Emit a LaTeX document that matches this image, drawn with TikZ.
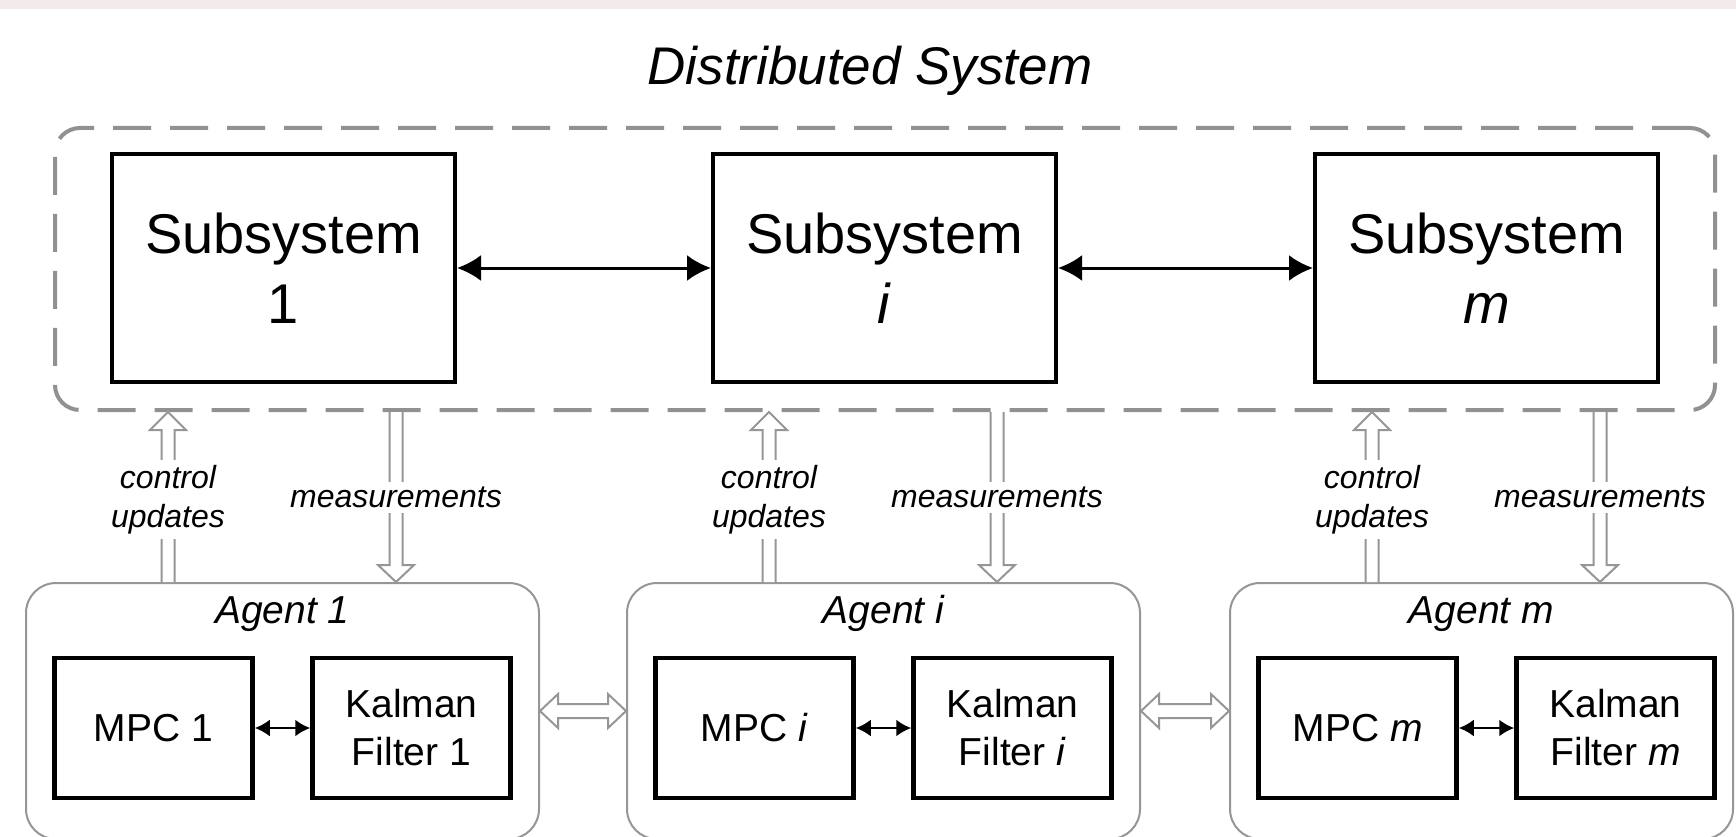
\documentclass[tikz,border=0pt]{standalone}
\usepackage{fontspec}
\setmainfont{Liberation Sans}
\usetikzlibrary{arrows.meta,calc}
\definecolor{topband}{RGB}{243,235,235}
\definecolor{lgray}{RGB}{150,150,150}
\definecolor{dgray}{RGB}{145,145,145}
\newcommand\myfs[2]{\fontsize{#1}{#2}\selectfont}
\newcommand\HollowUp[2]{\draw[hollow] let \p1=(#1), \p2=(#2) in (\x1-6.5pt,\y1) -- (\x1-6.5pt,\y2-18pt) -- (\x1-18pt,\y2-18pt) -- (\x1,\y2) -- (\x1+18pt,\y2-18pt) -- (\x1+6.5pt,\y2-18pt) -- (\x1+6.5pt,\y1);}
\newcommand\HollowDown[2]{\draw[hollow] let \p1=(#1), \p2=(#2) in (\x1-6.5pt,\y1) -- (\x1-6.5pt,\y2+17pt) -- (\x1-18pt,\y2+17pt) -- (\x1,\y2) -- (\x1+18pt,\y2+17pt) -- (\x1+6.5pt,\y2+17pt) -- (\x1+6.5pt,\y1);}
\newcommand\HollowLR[2]{\draw[hollow] let \p1=(#1), \p2=(#2) in (\x1,\y1) -- (\x1+18pt,\y1+17pt) -- (\x1+18pt,\y1+7pt) -- (\x2-18pt,\y1+7pt) -- (\x2-18pt,\y1+17pt) -- (\x2,\y1) -- (\x2-18pt,\y1-17pt) -- (\x2-18pt,\y1-7pt) -- (\x1+18pt,\y1-7pt) -- (\x1+18pt,\y1-17pt) -- cycle;}
\tikzset{
 subbox/.style={draw=black, line width=4pt, minimum width=343pt, minimum height=227pt, align=center, font=\myfs{56}{70}, inner sep=0pt},
 innerbox/.style={draw=black, line width=4.5pt, minimum width=198pt, minimum height=140pt, align=center, font=\myfs{39}{48}, inner sep=0pt},
 agentbox/.style={draw=lgray, line width=2pt, rounded corners=30pt, minimum height=256pt, inner sep=0pt},
 sysbox/.style={draw=dgray, line width=4pt, dash pattern=on 38pt off 19pt, rounded corners=25pt, minimum width=1660pt, minimum height=282pt, inner sep=0pt},
 link/.style={line width=3pt, {Latex[length=24pt,width=26pt]}-{Latex[length=24pt,width=26pt]}},
 smalllink/.style={line width=2.5pt, {Latex[length=15pt,width=17pt]}-{Latex[length=15pt,width=17pt]}},
 hollow/.style={draw=lgray, line width=2pt, fill=white, line join=miter},
 lbl/.style={font=\myfs{32}{39}\itshape, fill=white, inner sep=5pt, align=center},
 agtitle/.style={font=\myfs{39}{48}\itshape, anchor=base, inner sep=0pt},
}
\begin{document}
\begin{tikzpicture}[x=1pt,y=-1pt]
\useasboundingbox (0,0) rectangle (1736,837);
\fill[white] (0,0) rectangle (1736,837);
\fill[topband] (0,0) rectangle (1736,9);

% title
\node[font=\myfs{53}{64}\itshape, anchor=base, inner sep=0pt] (title) at (870,85) {Distributed System};

% distributed system frame
\node[sysbox] (dsys) at (885,269) {};

% subsystems
\node[subbox] (s1) at (283.5,268) {Subsystem\\1};
\node[subbox] (si) at (884.5,268) {Subsystem\\\textit{i}};
\node[subbox] (sm) at (1486.5,268) {Subsystem\\\textit{m}};
\draw[link] (s1) -- (si);
\draw[link] (si) -- (sm);

% agents
\node[agentbox, minimum width=513pt] (a1) at (282.5,711) {};
\node[agentbox, minimum width=513pt] (ai) at (883.5,711) {};
\node[agentbox, minimum width=503pt] (am) at (1481.5,711) {};
\node[agtitle] (a1t) at (282.5,623) {Agent 1};
\node[agtitle] (ait) at (883.5,623) {Agent \textit{i}};
\node[agtitle] (amt) at (1481.5,623) {Agent \textit{m}};

% inner boxes
\node[innerbox] (mpc1) at (153.5,728) {MPC 1};
\node[innerbox] (kf1) at (411.5,728) {Kalman\\Filter 1};
\node[innerbox] (mpci) at (754.5,728) {MPC \textit{i}};
\node[innerbox] (kfi) at (1012.5,728) {Kalman\\Filter \textit{i}};
\node[innerbox] (mpcm) at (1357.5,728) {MPC \textit{m}};
\node[innerbox] (kfm) at (1615.5,728) {Kalman\\Filter \textit{m}};
\draw[smalllink] (mpc1) -- (kf1);
\draw[smalllink] (mpci) -- (kfi);
\draw[smalllink] (mpcm) -- (kfm);

% agent-to-agent hollow double arrows
\HollowLR{a1.east}{ai.west}
\HollowLR{ai.east}{am.west}

% control / measurement arrows
\coordinate (cu1) at ($(a1.north west)+(143,0)$);
\coordinate (cui) at ($(ai.north west)+(143,0)$);
\coordinate (cum) at ($(am.north west)+(143,0)$);
\coordinate (me1) at ($(a1.north west)+(371,0)$);
\coordinate (mei) at ($(ai.north west)+(371,0)$);
\coordinate (mem) at ($(am.north west)+(371,0)$);
\HollowUp{cu1}{cu1 |- dsys.south}
\HollowUp{cui}{cui |- dsys.south}
\HollowUp{cum}{cum |- dsys.south}
\HollowDown{me1 |- dsys.south}{me1}
\HollowDown{mei |- dsys.south}{mei}
\HollowDown{mem |- dsys.south}{mem}

% labels
\node[lbl] (cl1) at (168,499.5) {control\\updates};
\node[lbl] (cli) at (769,499.5) {control\\updates};
\node[lbl] (clm) at (1372,499.5) {control\\updates};
\node[lbl] (ml1) at (396,497) {measurements};
\node[lbl] (mli) at (997,497) {measurements};
\node[lbl] (mlm) at (1600,497) {measurements};
\end{tikzpicture}
\end{document}
